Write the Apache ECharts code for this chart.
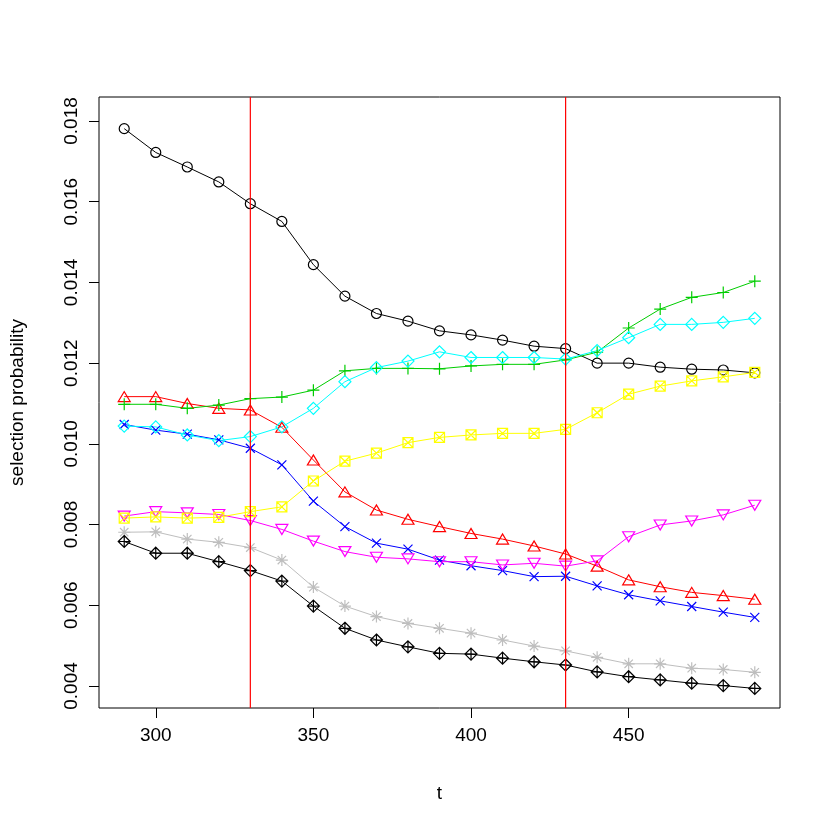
<!DOCTYPE html>
<html>
<head>
<meta charset="UTF-8">
<title>selection probability</title>
<script src="https://cdn.jsdelivr.net/npm/echarts@6/dist/echarts.min.js"></script>
<style>
  html, body { margin: 0; padding: 0; background: #fff; }
  #chart { width: 830px; height: 830px; }
</style>
</head>
<body>
<div id="chart"></div>
<script>
// time points
var tVals = [290, 300, 310, 320, 330, 340, 350, 360, 370, 380, 390, 400, 410, 420, 430, 440, 450, 460, 470, 480, 490];

// one array per curve
var s1 = [0.01781, 0.01722, 0.01686, 0.01649, 0.01595, 0.01551, 0.01444, 0.01366, 0.01323, 0.01304, 0.01280, 0.01270, 0.01257, 0.01242, 0.01236, 0.01200, 0.01200, 0.01190, 0.01185, 0.01183, 0.01176];
var s2 = [0.01117, 0.01117, 0.01100, 0.01088, 0.01084, 0.01041, 0.00960, 0.00881, 0.00836, 0.00813, 0.00795, 0.00778, 0.00764, 0.00747, 0.00727, 0.00697, 0.00663, 0.00646, 0.00632, 0.00624, 0.00615];
var s3 = [0.01098, 0.01098, 0.01088, 0.01096, 0.01112, 0.01116, 0.01133, 0.01181, 0.01187, 0.01187, 0.01186, 0.01193, 0.01197, 0.01197, 0.01208, 0.01227, 0.01287, 0.01334, 0.01363, 0.01375, 0.01403];
var s4 = [0.01048, 0.01034, 0.01024, 0.01010, 0.00989, 0.00948, 0.00858, 0.00795, 0.00754, 0.00739, 0.00712, 0.00698, 0.00686, 0.00671, 0.00672, 0.00648, 0.00626, 0.00611, 0.00597, 0.00583, 0.00570];
var s5 = [0.01044, 0.01042, 0.01022, 0.01008, 0.01018, 0.01042, 0.01088, 0.01154, 0.01189, 0.01205, 0.01228, 0.01214, 0.01214, 0.01214, 0.01210, 0.01231, 0.01263, 0.01296, 0.01296, 0.01301, 0.01311];
var s6 = [0.00821, 0.00832, 0.00829, 0.00825, 0.00810, 0.00788, 0.00759, 0.00733, 0.00719, 0.00715, 0.00708, 0.00708, 0.00700, 0.00704, 0.00697, 0.00710, 0.00770, 0.00799, 0.00809, 0.00824, 0.00848];
var s7 = [0.00816, 0.00819, 0.00816, 0.00818, 0.00832, 0.00844, 0.00908, 0.00957, 0.00977, 0.01003, 0.01016, 0.01022, 0.01026, 0.01026, 0.01036, 0.01077, 0.01123, 0.01143, 0.01156, 0.01166, 0.01177];
var s8 = [0.00781, 0.00782, 0.00764, 0.00756, 0.00743, 0.00712, 0.00645, 0.00598, 0.00572, 0.00555, 0.00543, 0.00531, 0.00514, 0.00499, 0.00487, 0.00471, 0.00455, 0.00455, 0.00444, 0.00441, 0.00434];
var s9 = [0.00758, 0.00729, 0.00729, 0.00708, 0.00686, 0.00660, 0.00598, 0.00543, 0.00514, 0.00497, 0.00481, 0.00479, 0.00469, 0.00460, 0.00452, 0.00435, 0.00423, 0.00415, 0.00407, 0.00401, 0.00394];

var vLines = [330, 430];
var xTicks = [300, 350, 400, 450];
var yTicks = [0.004, 0.006, 0.008, 0.010, 0.012, 0.014, 0.016, 0.018];
var yMin = 0.003455, yMax = 0.018594;

// R style point shapes (pch 1..9)
var shapes = [
  'path://M10,5A5,5 0 1 1 0,5A5,5 0 1 1 10,5Z',
  'path://M5,0L10,8.66L0,8.66Z',
  'path://M0,5L10,5M5,0L5,10',
  'path://M0,0L10,10M0,10L10,0',
  'path://M5,0L10,5L5,10L0,5Z',
  'path://M0,0L10,0L5,8.66Z',
  'path://M0,0L10,0L10,10L0,10ZM0,0L10,10M0,10L10,0',
  'path://M0,5L10,5M5,0L5,10M1.5,1.5L8.5,8.5M1.5,8.5L8.5,1.5',
  'path://M5,0L10,5L5,10L0,5ZM0,5L10,5M5,0L5,10'
];
var sizes = [10, [12, 10], 12, 9, 12, [12, 10], 10, 12, 12];
var colors = ['#000000', '#FF0000', '#00CD00', '#0000FF', '#00FFFF', '#FF00FF', '#FFFF00', '#BEBEBE', '#000000'];
var allSeries = [s1, s2, s3, s4, s5, s6, s7, s8, s9];

var series = allSeries.map(function(vals, i) {
  return {
    type: 'line',
    data: vals.map(function(v, j) { return [tVals[j], v]; }),
    symbol: shapes[i],
    symbolSize: sizes[i],
    showAllSymbol: true,
    lineStyle: { color: colors[i], width: 1 },
    itemStyle: { color: 'rgba(0,0,0,0)', borderColor: colors[i], borderWidth: 1.2 },
    emphasis: { disabled: true },
    animation: false
  };
});

// the two red reference lines (abline), drawn across the whole plot
vLines.forEach(function(x) {
  series.push({
    type: 'line',
    data: [[x, yMin], [x, yMax]],
    symbol: 'none',
    lineStyle: { color: '#FF0000', width: 1.2 },
    emphasis: { disabled: true },
    silent: true,
    z: 10,
    animation: false
  });
});

var font = 'Liberation Sans';
var chart = echarts.init(document.getElementById('chart'));
chart.setOption({
  backgroundColor: '#ffffff',
  grid: { left: 97, right: 50, top: 97, bottom: 122, show: true, borderColor: '#000', borderWidth: 1, backgroundColor: 'transparent' },
  xAxis: {
    type: 'value', min: 282, max: 498,
    name: 't', nameLocation: 'middle', nameGap: 76,
    nameTextStyle: { fontFamily: font, fontSize: 19, color: '#000' },
    axisLine: { show: false },
    axisTick: { show: true, customValues: xTicks, length: 10, lineStyle: { color: '#000' } },
    axisLabel: { customValues: xTicks, margin: 18, fontFamily: font, fontSize: 19, color: '#000' },
    splitLine: { show: false }
  },
  yAxis: {
    type: 'value', min: yMin, max: yMax,
    name: 'selection probability', nameLocation: 'middle', nameGap: 72, nameRotate: 90,
    nameTextStyle: { fontFamily: font, fontSize: 19, color: '#000' },
    axisLine: { show: false },
    axisTick: { show: true, customValues: yTicks, length: 10, lineStyle: { color: '#000' } },
    axisLabel: {
      customValues: yTicks, rotate: 90, margin: 18, fontFamily: font, fontSize: 19, color: '#000',
      formatter: function(v) { return v.toFixed(3); }
    },
    splitLine: { show: false }
  },
  series: series
});
</script>
</body>
</html>
